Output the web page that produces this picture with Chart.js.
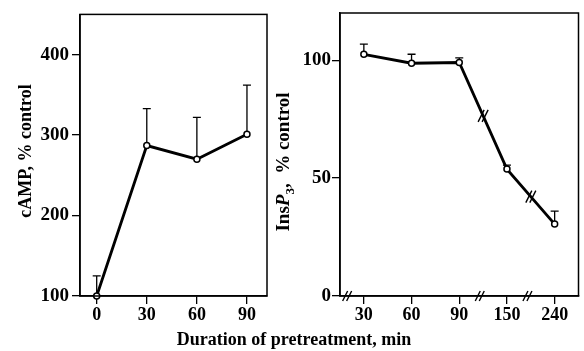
<!DOCTYPE html>
<html>
<head>
<meta charset="utf-8">
<script src="https://cdn.jsdelivr.net/npm/chart.js@4/dist/chart.umd.min.js"></script>
<style>
  html, body { margin: 0; padding: 0; background: #fff; }
  #wrap { position: relative; width: 584px; height: 351px; }
  canvas { position: absolute; left: 0; top: 0; }
</style>
</head>
<body>
<div id="wrap">
  <canvas id="campChart" width="584" height="351"></canvas>
  <canvas id="insChart" width="584" height="351"></canvas>
</div>
<script>
// left panel: cAMP
const campTimes = [0, 30, 60, 90];
const campValues = [100, 287, 270, 301];
const campErrors = [25, 46, 52, 61];
const campXTicks = [0, 30, 60, 90];
const campYTicks = [100, 200, 300, 400];

// right panel: InsP3 (x axis is broken, so points sit at evenly spaced slots)
const insLabels = ['30', '60', '90', '150', '240'];
const insValues = [102.5, 98.7, 99, 53.8, 30.5];
const insErrors = [4.3, 3.8, 2, 1.7, 5.5];
const insYTicks = [0, 50, 100];

const FONT = "'Liberation Serif', 'Times New Roman', serif";

function drawBreak(ctx, px, py, h) {
  ctx.save();
  ctx.strokeStyle = '#000';
  ctx.lineWidth = 1.4;
  [-2, 2].forEach(o => {
    ctx.beginPath();
    ctx.moveTo(px + o - h / 2, py + h);
    ctx.lineTo(px + o + h / 2, py - h);
    ctx.stroke();
  });
  ctx.restore();
}

const errorBars = {
  id: 'errorBars',
  beforeDatasetsDraw(chart, args, opts) {
    const ctx = chart.ctx;
    const x = chart.scales.x, y = chart.scales.y;
    ctx.save();
    ctx.strokeStyle = '#000';
    ctx.lineWidth = 1.3;
    chart.data.datasets[0].data.forEach((p, i) => {
      const px = x.getPixelForValue(p.x);
      const py = y.getPixelForValue(p.y);
      const top = y.getPixelForValue(p.y + opts.errors[i]);
      ctx.beginPath();
      ctx.moveTo(px, py);
      ctx.lineTo(px, top);
      ctx.moveTo(px - 4, top);
      ctx.lineTo(px + 4, top);
      ctx.stroke();
    });
    ctx.restore();
  }
};

const frame = {
  id: 'frame',
  afterDraw(chart) {
    const { ctx, chartArea: a } = chart;
    ctx.save();
    ctx.strokeStyle = '#000';
    ctx.lineWidth = 1.5;
    ctx.strokeRect(a.left, a.top, a.right - a.left, a.bottom - a.top);
    ctx.restore();
  }
};

const campTitles = {
  id: 'campTitles',
  afterDraw(chart) {
    const ctx = chart.ctx;
    ctx.save();
    ctx.fillStyle = '#000';
    ctx.font = 'bold 18px ' + FONT;
    ctx.textAlign = 'center';
    ctx.textBaseline = 'middle';
    ctx.fillText('Duration of pretreatment, min', 294, 340);
    ctx.translate(26, 151);
    ctx.rotate(-Math.PI / 2);
    ctx.fillText('cAMP, % control', 0, 0);
    ctx.restore();
  }
};

const insTitles = {
  id: 'insTitles',
  afterDraw(chart) {
    const ctx = chart.ctx;
    const parts = [
      { t: 'Ins', f: 'bold 19px ' + FONT, dy: 0 },
      { t: 'P', f: 'italic bold 19px ' + FONT, dy: 0 },
      { t: '3', f: 'bold 13px ' + FONT, dy: 5 },
      { t: ',  % control', f: 'bold 19px ' + FONT, dy: 0 }
    ];
    ctx.save();
    ctx.fillStyle = '#000';
    ctx.textBaseline = 'alphabetic';
    ctx.textAlign = 'left';
    let total = 0;
    parts.forEach(p => { ctx.font = p.f; p.w = ctx.measureText(p.t).width; total += p.w; });
    ctx.translate(289, 162);
    ctx.rotate(-Math.PI / 2);
    let cx = -total / 2;
    parts.forEach(p => {
      ctx.font = p.f;
      ctx.fillText(p.t, cx, p.dy);
      cx += p.w;
    });
    ctx.restore();

    // axis breaks and line breaks
    const x = chart.scales.x, y = chart.scales.y;
    [-0.35, 2.43, 3.43].forEach(v => drawBreak(ctx, x.getPixelForValue(v), y.bottom, 5));
    for (const i of [2, 3]) {
      const mx = (x.getPixelForValue(i) + x.getPixelForValue(i + 1)) / 2;
      const my = (y.getPixelForValue(insValues[i]) + y.getPixelForValue(insValues[i + 1])) / 2;
      drawBreak(ctx, mx, my, 6);
    }
  }
};

function axisStyle(size, pad, extra) {
  return Object.assign({
    grid: { display: true, drawOnChartArea: false, drawTicks: true, tickLength: 8, color: '#000', lineWidth: 1.3 },
    border: { display: true, color: '#000', width: 1.5 },
    ticks: { color: '#000', font: { family: FONT, size: size, weight: 'bold' }, padding: pad }
  }, extra);
}

function lineDataset(data) {
  return {
    data: data,
    borderColor: '#000',
    borderWidth: 2.8,
    pointRadius: 3,
    pointBorderWidth: 1.5,
    pointBackgroundColor: '#fff',
    pointBorderColor: '#000',
    tension: 0,
    clip: false
  };
}

new Chart(document.getElementById('campChart'), {
  type: 'line',
  data: {
    datasets: [lineDataset(campTimes.map((t, i) => ({ x: t, y: campValues[i] })))]
  },
  options: {
    responsive: false,
    animation: false,
    layout: { padding: { left: 0, right: 317, top: 12, bottom: 0 } },
    plugins: {
      legend: { display: false },
      tooltip: { enabled: false },
      errorBars: { errors: campErrors }
    },
    scales: {
      x: axisStyle(18, 1, {
        type: 'linear', min: -10, max: 102,
        afterBuildTicks: s => { s.ticks = campXTicks.map(v => ({ value: v })); },
        afterFit: s => { s.height = 55; }
      }),
      y: axisStyle(19, 3, {
        type: 'linear', min: 100, max: 450,
        afterBuildTicks: s => { s.ticks = campYTicks.map(v => ({ value: v })); },
        afterFit: s => { s.width = 80; }
      })
    }
  },
  plugins: [errorBars, frame, campTitles]
});

const insX = axisStyle(18, 1, {
  type: 'linear', min: -0.5, max: 4.5,
  afterBuildTicks: s => { s.ticks = insLabels.map((l, i) => ({ value: i })); },
  afterFit: s => { s.height = 55; }
});
insX.ticks.callback = v => insLabels[v];

new Chart(document.getElementById('insChart'), {
  type: 'line',
  data: {
    datasets: [lineDataset(insValues.map((v, i) => ({ x: i, y: v })))]
  },
  options: {
    responsive: false,
    animation: false,
    layout: { padding: { left: 0, right: 2, top: 13, bottom: 0 } },
    plugins: {
      legend: { display: false },
      tooltip: { enabled: false },
      errorBars: { errors: insErrors }
    },
    scales: {
      x: insX,
      y: axisStyle(19, 1, {
        type: 'linear', min: 0, max: 120,
        afterBuildTicks: s => { s.ticks = insYTicks.map(v => ({ value: v })); },
        afterFit: s => { s.width = 340; }
      })
    }
  },
  plugins: [errorBars, frame, insTitles]
});
</script>
</body>
</html>
